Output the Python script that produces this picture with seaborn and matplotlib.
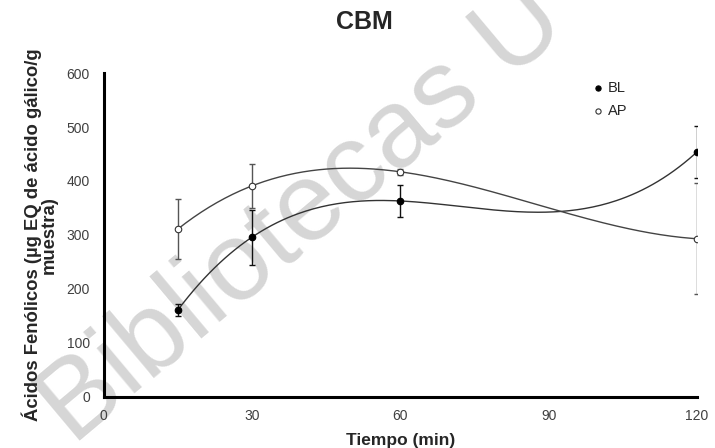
import numpy as np
import pandas as pd
import matplotlib
matplotlib.use("Agg")
import matplotlib.pyplot as plt
import seaborn as sns

tiempo = [15, 30, 60, 120]
bl_vals = [161, 296, 363, 454]
bl_err = [11, 51, 30, 48]
ap_vals = [311, 391, 417, 293]
ap_err = [55, 41, 5, 103]
xticks = [0, 30, 60, 90, 120]
yticks = [0, 100, 200, 300, 400, 500, 600]

sns.set_theme(style="white")
plt.rcParams['font.family'] = ['Liberation Sans', 'DejaVu Sans']

fig = plt.figure(figsize=(7.15, 4.48), dpi=100)
ax = fig.add_axes([0.145, 0.114, 0.83, 0.723])
ax.set_zorder(2)
ax.set_facecolor("none")

# watermark (behind the axes)
fig.text(0.102, 0.004, "Bibliotecas U", fontsize=80, color="#d6d6d6", rotation=40,
         ha="left", va="baseline", rotation_mode="anchor", zorder=0)

# cubic trendlines
xs = np.linspace(15, 120, 200)
for vals, col in [(bl_vals, "#333333"), (ap_vals, "#444444")]:
    coef = np.polyfit(tiempo, vals, 3)
    sns.lineplot(x=xs, y=np.polyval(coef, xs), ax=ax, color=col, lw=1.0, zorder=2)

ax.errorbar(tiempo, bl_vals, yerr=bl_err, fmt="none", ecolor="#111111", elinewidth=1.0,
            capsize=2.5, capthick=1.0, zorder=3)
ax.errorbar(tiempo, ap_vals, yerr=ap_err, fmt="none", ecolor="#555555", elinewidth=1.0,
            capsize=2.5, capthick=1.0, zorder=3)

df = pd.DataFrame({"t": tiempo * 2, "v": bl_vals + ap_vals,
                   "s": ["BL"] * 4 + ["AP"] * 4})
sns.scatterplot(data=df[df.s == "BL"], x="t", y="v", ax=ax, color="black", s=22,
                edgecolor="black", linewidth=0.8, zorder=4, label="BL")
sns.scatterplot(data=df[df.s == "AP"], x="t", y="v", ax=ax, color="white", s=22,
                edgecolor="#333333", linewidth=0.8, zorder=4, label="AP")

ax.set_xlim(0, 120)
ax.set_ylim(0, 600)
ax.set_xticks(xticks)
ax.set_yticks(yticks)
ax.tick_params(axis="both", labelsize=10, colors="#404040", length=0)
ax.tick_params(axis="x", pad=9)
ax.tick_params(axis="y", pad=10)
for s in ["top", "right"]:
    ax.spines[s].set_visible(False)
for s in ["left", "bottom"]:
    ax.spines[s].set_color("black")
    ax.spines[s].set_linewidth(2.2)

ax.set_xlabel("Tiempo (min)", fontsize=12.5, fontweight="bold", labelpad=7)
ax.set_ylabel("Ácidos Fenólicos (µg EQ de ácido gálico/g\nmuestra)", fontsize=13.3,
              fontweight="bold", labelpad=6, linespacing=0.9)
fig.text(0.51, 0.951, "CBM", fontsize=18, fontweight="bold", ha="center", va="center")

leg = ax.legend(loc="upper left", bbox_to_anchor=(0.823, 0.975), frameon=False,
                fontsize=10.5, handlelength=0.8, handletextpad=0.3, labelspacing=0.6,
                markerscale=0.8, borderaxespad=0, borderpad=0)

fig.savefig("out.png", dpi=100)
